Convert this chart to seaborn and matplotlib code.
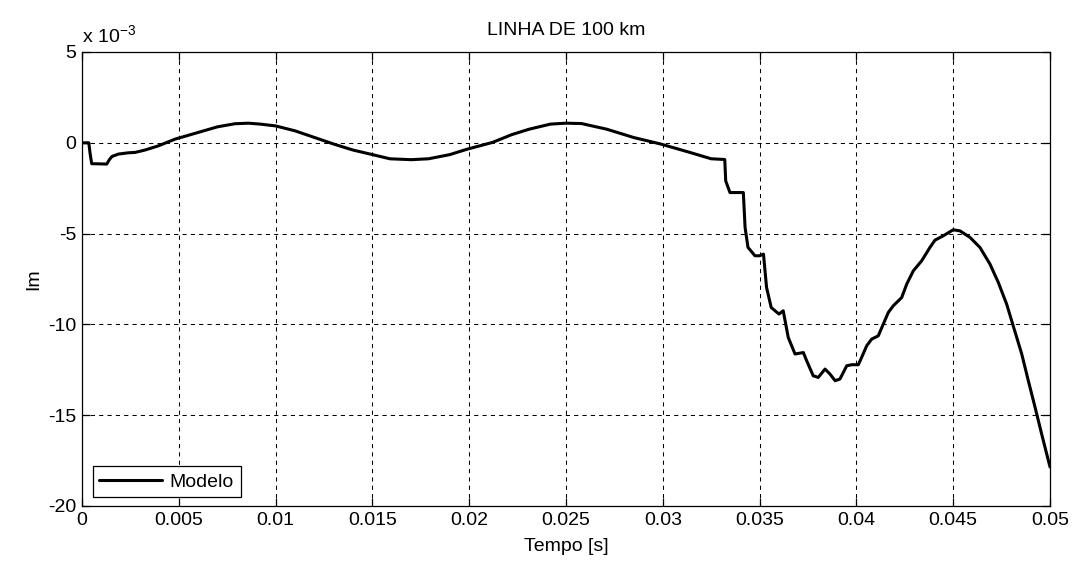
import matplotlib
matplotlib.use("Agg")
import matplotlib.pyplot as plt
import matplotlib.ticker as mticker
import numpy as np
import pandas as pd
import seaborn as sns

# Time samples [s]
tempo = [
    0.0000, 0.00035, 0.00042, 0.00050, 0.00128, 0.00140, 0.00155, 0.00188,
    0.00240, 0.00274, 0.00325, 0.00394, 0.0048, 0.0060, 0.0070, 0.0079,
    0.0086, 0.0092, 0.0100, 0.0110, 0.0124, 0.0130, 0.0140, 0.0150,
    0.0159, 0.0170, 0.0179, 0.0190, 0.0199, 0.0212, 0.0222, 0.0231,
    0.0242, 0.0250, 0.0258, 0.0271, 0.0285, 0.0299, 0.0314, 0.0325,
    0.0332, 0.03325, 0.03347, 0.03416, 0.03425, 0.0344, 0.03476, 0.0350,
    0.0352, 0.03536, 0.0356, 0.0360, 0.03622, 0.03648, 0.03683, 0.03726,
    0.03743, 0.03777, 0.03803, 0.03838, 0.03864, 0.0389, 0.03915, 0.0395,
    0.03976, 0.0401, 0.04027, 0.04053, 0.04079, 0.04113, 0.04139, 0.04165,
    0.0419, 0.04234, 0.0426, 0.04294, 0.04337, 0.0438, 0.04406, 0.04449,
    0.0450, 0.04535, 0.04587, 0.04638, 0.0469, 0.04733, 0.04776, 0.0481,
    0.04854, 0.04888, 0.04923, 0.04957, 0.0500,
]

# Current Im, in units of 1e-3
im_milli = [
    0.0, 0.0, -0.6, -1.15, -1.17, -0.95, -0.75, -0.62,
    -0.55, -0.53, -0.40, -0.17, 0.20, 0.57, 0.88, 1.05,
    1.08, 1.03, 0.93, 0.66, 0.15, -0.07, -0.40, -0.65,
    -0.88, -0.93, -0.88, -0.65, -0.35, 0.02, 0.45, 0.75,
    1.03, 1.08, 1.06, 0.75, 0.29, -0.07, -0.53, -0.88,
    -0.92, -2.1, -2.74, -2.74, -4.66, -5.76, -6.22, -6.22,
    -6.13, -7.97, -9.07, -9.43, -9.25, -10.72, -11.63, -11.55,
    -12.0, -12.83, -12.92, -12.46, -12.74, -13.1, -13.01, -12.28,
    -12.22, -12.22, -11.82, -11.18, -10.81, -10.63, -9.98, -9.34,
    -8.98, -8.52, -7.78, -7.05, -6.5, -5.76, -5.36, -5.12,
    -4.79, -4.85, -5.21, -5.76, -6.68, -7.69, -8.88, -10.08,
    -11.63, -13.1, -14.57, -16.04, -17.85,
]

x_ticks = [0, 0.005, 0.01, 0.015, 0.02, 0.025, 0.03, 0.035, 0.04, 0.045, 0.05]
x_tick_labels = ["0", "0.005", "0.01", "0.015", "0.02", "0.025", "0.03",
                 "0.035", "0.04", "0.045", "0.05"]
y_ticks_milli = [5, 0, -5, -10, -15, -20]
scale = 1e-3

df = pd.DataFrame({
    "Tempo [s]": tempo,
    "Im": np.array(im_milli) * scale,
    "serie": "Modelo",
})

sns.set_theme(style="white")
plt.rcParams["font.family"] = ["Liberation Sans", "DejaVu Sans"]
plt.rcParams["mathtext.fontset"] = "custom"
plt.rcParams["mathtext.rm"] = "Liberation Sans"
plt.rcParams["mathtext.it"] = "Liberation Sans"
plt.rcParams["text.color"] = "black"
plt.rcParams["axes.labelcolor"] = "black"

fs = 14
fig = plt.figure(figsize=(10.72, 5.62), dpi=100)
ax = fig.add_axes([82 / 1072, 56 / 562, 968 / 1072, 454 / 562])

sns.lineplot(data=df, x="Tempo [s]", y="Im", hue="serie",
             palette=["black"], linewidth=2.2, sort=False,
             estimator=None, ax=ax)

ax.set_xlim(0, 0.05)
ax.set_ylim(-20 * scale, 5 * scale)
ax.set_xticks(x_ticks)
ax.set_xticklabels(x_tick_labels)
ax.set_yticks([v * scale for v in y_ticks_milli])
ax.yaxis.set_major_formatter(
    mticker.FuncFormatter(lambda v, _: f"{v / scale:g}"))

ax.grid(True, color="black", linestyle=(0, (4, 4)), linewidth=0.75)
for sp in ax.spines.values():
    sp.set_color("black")
    sp.set_linewidth(0.9)
ax.tick_params(direction="in", length=6, width=0.9, colors="black",
               labelsize=fs, pad=4, top=True, right=True,
               bottom=True, left=True)

ax.set_title("LINHA DE 100 km", fontsize=fs, pad=12)
ax.set_xlabel("Tempo [s]", fontsize=fs, labelpad=7)
ax.set_ylabel("Im", fontsize=fs, labelpad=4)
ax.text(0.0, 1.014, r"x 10$^{-3}$", transform=ax.transAxes,
        fontsize=fs, ha="left", va="bottom")

leg = ax.legend(loc="lower left", bbox_to_anchor=(0.011, 0.019),
                borderaxespad=0, fancybox=False, framealpha=1,
                edgecolor="black", fontsize=fs, handlelength=3.2,
                handletextpad=0.4, borderpad=0.35, title=None)
leg.get_frame().set_linewidth(0.9)
for line in leg.get_lines():
    line.set_linewidth(2.2)

fig.savefig("out.png", dpi=100, facecolor="white")
